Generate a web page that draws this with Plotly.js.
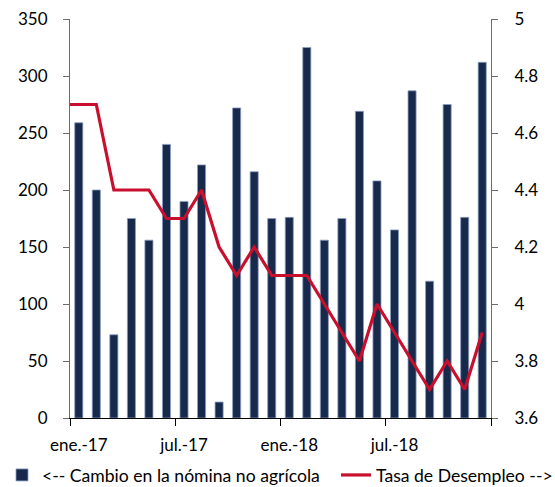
<!DOCTYPE html>
<html>
<head>
<meta charset="utf-8">
<script src="https://cdn.plot.ly/plotly-3.0.1.min.js"></script>
<style>html,body{margin:0;padding:0;background:#fff;}#chart{width:555px;height:487px;}</style>
</head>
<body>
<div id="chart"></div>
<script>
// Months shown as bars (ene.-17 .. dic.-18)
const months = ['ene.-17','feb.-17','mar.-17','abr.-17','may.-17','jun.-17','jul.-17','ago.-17','sep.-17','oct.-17','nov.-17','dic.-17',
                'ene.-18','feb.-18','mar.-18','abr.-18','may.-18','jun.-18','jul.-18','ago.-18','sep.-18','oct.-18','nov.-18','dic.-18'];
// Change in non-farm payrolls (thousands)
const nomina = [259,200,73,175,156,240,190,222,14,272,216,175,176,325,156,175,269,208,165,287,120,275,176,312];
// Unemployment rate, starting dic.-16 (first point is cut by the axis)
const desempleoMonths = ['dic.-16'].concat(months);
const desempleo = [4.7,4.7,4.7,4.4,4.4,4.4,4.3,4.3,4.4,4.2,4.1,4.2,4.1,4.1,4.1,4.0,3.9,3.8,4.0,3.9,3.8,3.7,3.8,3.7,3.9];
// Labelled months on the x axis
const tickLabels = ['ene.-17','jul.-17','ene.-18','jul.-18'];
const barName = '<-- Cambio en la nómina no agrícola';
const lineName = 'Tasa de Desempleo -->';

const xBar = months.map((m,i)=>i);
const xLine = desempleoMonths.map((m,i)=>i-1);
const tickVals = tickLabels.map(t=>months.indexOf(t));
const boundaryVals = months.filter((m,i)=>i%6===0).map(m=>months.indexOf(m)-0.5).concat([months.length-0.5]);

const fam = 'Lato, "Open Sans", sans-serif';
const font = {family:fam, size:17, color:'#000'};
const legFont = {family:fam, size:17.6, color:'#000'};
const axisColor = '#6b6b6b';

const traces = [
  {type:'bar', x:xBar, y:nomina, name:barName, yaxis:'y', xaxis:'x', legend:'legend',
   marker:{color:'#172a4b', line:{color:'#8a9cc0', width:0.8}}, hoverinfo:'y'},
  {type:'scatter', mode:'lines', x:xLine, y:desempleo, name:lineName, yaxis:'y2', xaxis:'x', legend:'legend2',
   line:{color:'#c8102e', width:3.2}},
  // invisible helper so the boundary tick axis renders
  {type:'scatter', x:[0], y:[0], xaxis:'x2', yaxis:'y', mode:'markers', marker:{opacity:0}, showlegend:false, hoverinfo:'skip'}
];

const legBase = {orientation:'h', xref:'container', yref:'container', xanchor:'left', yanchor:'middle',
                 y:1-475/487, font:legFont, bgcolor:'rgba(0,0,0,0)', borderwidth:0};

const layout = {
  width:555, height:487,
  margin:{l:70, r:64, t:19, b:69, autoexpand:false},
  paper_bgcolor:'#fff', plot_bgcolor:'#fff',
  font:font,
  bargap:0.54,
  showlegend:true,
  legend:Object.assign({}, legBase, {x:2/555}),
  legend2:Object.assign({}, legBase, {x:336/555}),
  xaxis:{range:[-0.5, months.length-0.5], tickmode:'array', tickvals:tickVals, ticktext:tickLabels,
         ticks:'', showgrid:false, zeroline:false, showline:true, linecolor:'#000', linewidth:1,
         tickfont:font, ticklabelstandoff:12},
  xaxis2:{overlaying:'x', matches:'x', range:[-0.5, months.length-0.5], tickmode:'array', tickvals:boundaryVals,
          ticktext:boundaryVals.map(()=> ''), ticks:'outside', ticklen:7, tickcolor:'#000', tickwidth:1,
          showgrid:false, zeroline:false, showline:false, side:'bottom', anchor:'y', showticklabels:false},
  yaxis:{range:[0,350], dtick:50, ticks:'outside', ticklen:6, tickcolor:axisColor, showline:true,
         linecolor:axisColor, linewidth:1, showgrid:false, zeroline:false, tickfont:font, ticklabelstandoff:12},
  yaxis2:{range:[3.6,5], dtick:0.2, overlaying:'y', side:'right', ticks:'outside', ticklen:6, tickcolor:axisColor,
          showline:true, linecolor:axisColor, linewidth:1, showgrid:false, zeroline:false, tickfont:font,
          ticklabelstandoff:13}
};

Plotly.newPlot('chart', traces, layout, {displayModeBar:false, staticPlot:true});
</script>
</body>
</html>
